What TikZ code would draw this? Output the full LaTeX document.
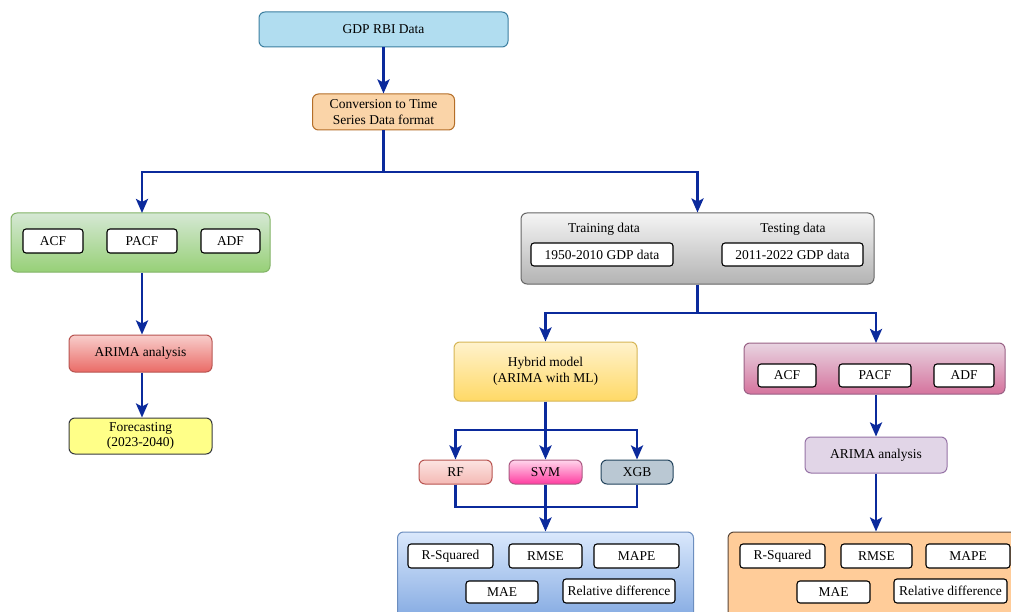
\documentclass[tikz,border=0pt]{standalone}
\usepackage{fontspec}
\setmainfont{Liberation Serif}
\usetikzlibrary{arrows.meta}
\definecolor{arr}{HTML}{0B2A9C}
\tikzset{
  x=1pt,y=-1pt,
  every node/.style={font=\fontsize{13.5}{15.5}\selectfont, inner sep=0pt, align=center},
  box/.style={rounded corners=6pt, line width=1pt},
  wbox/.style={draw=black, fill=white, rounded corners=3pt, line width=1.1pt},
  conn/.style={draw=arr, line width=2.6pt},
  arrow/.style={conn, -{Stealth[width=12pt,length=14pt,inset=3pt]}},
}
\begin{document}
\begin{tikzpicture}
\clip (0,0) rectangle (1011,612);
\fill[white] (0,0) rectangle (1011,612);
% top
\node[box, draw={rgb,255:red,60;green,127;blue,160}, fill={rgb,255:red,177;green,221;blue,240}, minimum width=249, minimum height=35] (gdp) at (383.5,29.5) {GDP RBI Data};
\node[box, draw={rgb,255:red,180;green,110;blue,40}, fill={rgb,255:red,250;green,212;blue,168}, minimum width=142, minimum height=36] (conv) at (383.5,112) {Conversion to Time\\Series Data format};
% left branch
\node[box, draw={rgb,255:red,130;green,179;blue,102}, top color={rgb,255:red,213;green,232;blue,212}, bottom color={rgb,255:red,151;green,208;blue,119}, minimum width=259, minimum height=59] (green) at (140.5,242.5) {};
\node[wbox, minimum width=60, minimum height=24] (gacf) at (53,241) {ACF};
\node[wbox, minimum width=70, minimum height=24] (gpacf) at (142,241) {PACF};
\node[wbox, minimum width=59, minimum height=24] (gadf) at (230.5,241) {ADF};
\node[box, draw={rgb,255:red,184;green,84;blue,80}, top color={rgb,255:red,248;green,206;blue,204}, bottom color={rgb,255:red,234;green,107;blue,102}, minimum width=143, minimum height=37] (arimaL) at (140.5,353.5) {ARIMA analysis};
\node[box, draw={rgb,255:red,54;green,57;blue,61}, fill={rgb,255:red,255;green,255;blue,136}, minimum width=143, minimum height=36] (fore) at (140.5,436) {Forecasting\\(2023-2040)};
% gray
\node[box, draw={rgb,255:red,102;green,102;blue,102}, top color={rgb,255:red,245;green,245;blue,245}, bottom color={rgb,255:red,179;green,179;blue,179}, minimum width=353, minimum height=71] (gray) at (697.5,248.5) {};
\node (trl) at (604,229) {Training data};
\node (tel) at (793,229) {Testing data};
\node[wbox, minimum width=142, minimum height=23] (tr) at (602,254.5) {1950-2010 GDP data};
\node[wbox, minimum width=141, minimum height=23] (te) at (792.5,254.5) {2011-2022 GDP data};
% hybrid
\node[box, draw={rgb,255:red,214;green,182;blue,86}, top color={rgb,255:red,255;green,242;blue,204}, bottom color={rgb,255:red,255;green,217;blue,102}, minimum width=183, minimum height=59] (hyb) at (545.5,371.5) {Hybrid model\\(ARIMA with ML)};
\node[box, draw={rgb,255:red,184;green,84;blue,80}, top color={rgb,255:red,252;green,228;blue,226}, bottom color={rgb,255:red,244;green,185;blue,180}, minimum width=73, minimum height=24] (rf) at (455.5,472) {RF};
\node[box, draw={rgb,255:red,170;green,90;blue,130}, top color={rgb,255:red,255;green,214;blue,236}, bottom color={rgb,255:red,255;green,60;blue,160}, minimum width=73, minimum height=24] (svm) at (545.5,472) {SVM};
\node[box, draw={rgb,255:red,35;green,68;blue,93}, fill={rgb,255:red,186;green,200;blue,211}, minimum width=72, minimum height=24] (xgb) at (637,472) {XGB};
\node[box, draw={rgb,255:red,108;green,142;blue,191}, top color={rgb,255:red,218;green,232;blue,252}, bottom color={rgb,255:red,126;green,166;blue,224}, minimum width=296, minimum height=93] (blue) at (545.5,578.5) {};
\node[wbox, minimum width=85, minimum height=24] (brsq) at (450.5,556) {R-Squared};
\node[wbox, minimum width=73, minimum height=24] (brmse) at (545.5,556) {RMSE};
\node[wbox, minimum width=85, minimum height=24] (bmape) at (636.5,556) {MAPE};
\node[wbox, minimum width=72, minimum height=22] (bmae) at (502,592) {MAE};
\node[wbox, minimum width=112, minimum height=24] (brel) at (619,591) {Relative difference};
% right branch
\node[box, draw={rgb,255:red,153;green,97;blue,133}, top color={rgb,255:red,232;green,212;blue,225}, bottom color={rgb,255:red,213;green,115;blue,157}, minimum width=261, minimum height=51] (pink) at (874.5,368.5) {};
\node[wbox, minimum width=58, minimum height=23] (pacf1) at (787,375.5) {ACF};
\node[wbox, minimum width=72, minimum height=23] (ppacf) at (875,375.5) {PACF};
\node[wbox, minimum width=60, minimum height=23] (padf) at (964,375.5) {ADF};
\node[box, draw={rgb,255:red,150;green,115;blue,166}, fill={rgb,255:red,225;green,213;blue,231}, minimum width=142, minimum height=36] (arimaR) at (876,455) {ARIMA analysis};
\node[box, draw={rgb,255:red,90;green,70;blue,55}, fill={rgb,255:red,255;green,204;blue,153}, minimum width=298, minimum height=93] (orange) at (877,578.5) {};
\node[wbox, minimum width=85, minimum height=24] (orsq) at (782.5,556) {R-Squared};
\node[wbox, minimum width=71, minimum height=24] (ormse) at (876.5,556) {RMSE};
\node[wbox, minimum width=84, minimum height=24] (omape) at (968,556) {MAPE};
\node[wbox, minimum width=73, minimum height=22] (omae) at (833.5,592) {MAE};
\node[wbox, minimum width=113, minimum height=24] (orel) at (950.5,591) {Relative difference};
% connectors
\coordinate (j1) at (383.5,172);
\coordinate (j2) at (697.5,313);
\coordinate (j3) at (545.5,430);
\coordinate (j4) at (545.5,507);
\coordinate (gin) at (142,213);
\coordinate (pin) at (876,343);
\draw[arrow] (gdp.south) -- (conv.north);
\draw[conn] (conv.south) -- (j1);
\draw[arrow] (j1) -| (gin);
\draw[arrow] (j1) -| (gray.north);
\draw[arrow] (green.south -| gin) -- (arimaL.north -| gin);
\draw[arrow] (arimaL.south -| gin) -- (fore.north -| gin);
\draw[conn] (gray.south) -- (j2);
\draw[arrow] (j2) -| (hyb.north);
\draw[arrow] (j2) -| (pin);
\draw[conn] (hyb.south) -- (j3);
\draw[arrow] (j3) -| (rf.north);
\draw[arrow] (j3) -- (svm.north);
\draw[arrow] (j3) -| (xgb.north);
\draw[conn] (rf.south) |- (j4);
\draw[conn] (xgb.south) |- (j4);
\draw[conn] (svm.south) -- (j4);
\draw[arrow] (j4) -- (blue.north);
\draw[arrow] (pink.south -| pin) -- (arimaR.north -| pin);
\draw[arrow] (arimaR.south -| pin) -- (orange.north -| pin);
\end{tikzpicture}
\end{document}
